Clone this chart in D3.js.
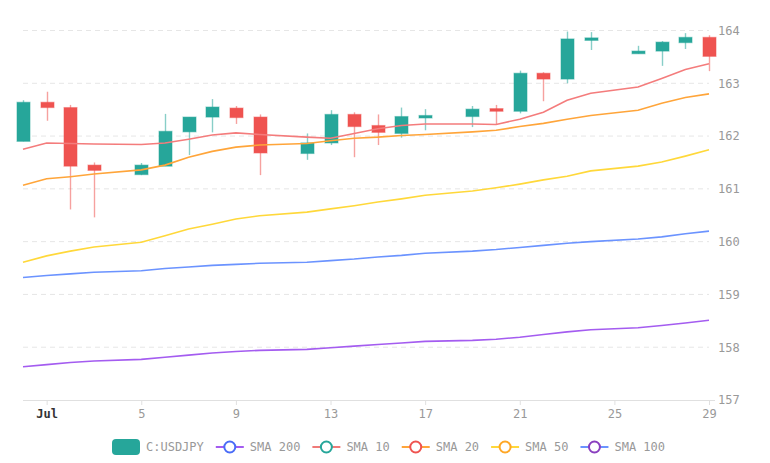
<!DOCTYPE html>
<html>
<head>
<meta charset="utf-8">
<script src="https://cdn.jsdelivr.net/npm/d3@7"></script>
<style>
  body { margin: 0; background: #fff; }
  svg text { font-family: "DejaVu Sans Mono", monospace; font-size: 12px; }
</style>
</head>
<body>
<svg id="chart" width="770" height="463"></svg>
<script>
// days of July 2024 (0 = Jun 30)
const days  = [0, 1, 2, 3, 5, 6, 7, 8, 9, 10, 12, 13, 14, 15, 16, 17, 19, 20, 21, 22, 23, 24, 26, 27, 28, 29];
const open  = [161.90, 162.64, 162.54, 161.45, 161.27, 161.43, 162.08, 162.36, 162.53, 162.36, 161.67, 161.87, 162.41, 162.20, 162.05, 162.37, 162.37, 162.52, 162.47, 163.19, 163.08, 163.84, 163.56, 163.61, 163.77, 163.87];
const high  = [162.68, 162.84, 162.59, 161.50, 161.49, 162.42, 162.36, 162.70, 162.57, 162.41, 162.05, 162.49, 162.45, 162.41, 162.54, 162.51, 162.57, 162.59, 163.24, 163.21, 163.98, 163.97, 163.71, 163.80, 163.95, 163.91];
const low   = [161.90, 162.29, 160.61, 160.46, 161.26, 161.43, 161.64, 162.07, 162.23, 161.26, 161.55, 161.83, 161.60, 161.83, 161.97, 162.11, 162.17, 162.21, 162.43, 162.66, 163.00, 163.63, 163.56, 163.33, 163.65, 163.23];
const close = [162.64, 162.54, 161.43, 161.35, 161.45, 162.09, 162.36, 162.55, 162.35, 161.68, 161.87, 162.41, 162.18, 162.07, 162.37, 162.39, 162.51, 162.47, 163.19, 163.08, 163.84, 163.86, 163.61, 163.78, 163.87, 163.51];

const sma10  = [161.75, 161.87, 161.86, 161.85, 161.84, 161.87, 161.94, 162.02, 162.06, 162.03, 161.98, 161.96, 162.05, 162.14, 162.20, 162.23, 162.23, 162.22, 162.32, 162.45, 162.68, 162.81, 162.93, 163.09, 163.26, 163.37];
const sma20  = [161.07, 161.19, 161.23, 161.28, 161.36, 161.45, 161.60, 161.71, 161.79, 161.83, 161.86, 161.91, 161.96, 161.98, 162.01, 162.03, 162.08, 162.11, 162.18, 162.24, 162.32, 162.39, 162.49, 162.62, 162.73, 162.80];
const sma50  = [159.61, 159.73, 159.82, 159.90, 159.99, 160.11, 160.24, 160.33, 160.43, 160.49, 160.56, 160.62, 160.68, 160.75, 160.81, 160.88, 160.96, 161.02, 161.09, 161.17, 161.24, 161.34, 161.43, 161.51, 161.62, 161.74];
const sma100 = [159.32, 159.36, 159.39, 159.42, 159.45, 159.49, 159.52, 159.55, 159.57, 159.59, 159.61, 159.64, 159.67, 159.71, 159.74, 159.78, 159.82, 159.85, 159.89, 159.93, 159.97, 160.00, 160.05, 160.09, 160.15, 160.20];
const sma200 = [157.63, 157.67, 157.71, 157.74, 157.77, 157.81, 157.85, 157.89, 157.92, 157.94, 157.96, 157.99, 158.02, 158.05, 158.08, 158.11, 158.13, 158.15, 158.19, 158.24, 158.29, 158.33, 158.37, 158.41, 158.46, 158.51];

const xTickDays = [1, 5, 9, 13, 17, 21, 25, 29];
const yTicks = [157, 158, 159, 160, 161, 162, 163, 164];

const legendItems = [
  {name: "C:USDJPY", type: "candle", color: "#26a69a"},
  {name: "SMA 200", line: "#a45cf0", dot: "#4a6cf7"},
  {name: "SMA 10",  line: "#f07a78", dot: "#26a69a"},
  {name: "SMA 20",  line: "#ffa53a", dot: "#ef5350"},
  {name: "SMA 50",  line: "#ffd83a", dot: "#ffa726"},
  {name: "SMA 100", line: "#6b93ff", dot: "#8a3fbf"}
];
const lineSeries = [
  {vals: sma200, color: "#a45cf0"},
  {vals: sma100, color: "#6b93ff"},
  {vals: sma50,  color: "#ffd83a"},
  {vals: sma20,  color: "#ffa53a"},
  {vals: sma10,  color: "#f47c7c"}
];

const up = "#26a69a", down = "#ef5350";
const toDate = d => new Date(Date.UTC(2024, 6, d));

const data = days.map((d, i) => ({date: toDate(d), o: open[i], h: high[i], l: low[i], c: close[i]}));

const svg = d3.select("#chart");
const plot = {left: 23, right: 709, top: 30.5, bottom: 400};

const x = d3.scaleUtc().domain([toDate(0), toDate(29)]).range([plot.left, plot.right]);
const y = d3.scaleLinear().domain([157, 164]).range([plot.bottom, plot.top]);

// grid
svg.append("g").selectAll("line").data(yTicks.slice(1)).enter().append("line")
  .attr("x1", plot.left).attr("x2", plot.right)
  .attr("y1", d => y(d)).attr("y2", d => y(d))
  .attr("stroke", "#e6e6e6").attr("stroke-dasharray", "5,4");

// y axis (right, no line)
let yAxis = d3.axisRight(y).tickValues(yTicks).tickSize(0).tickPadding(9).tickFormat(d3.format("d"));
svg.append("g").attr("transform", `translate(${plot.right},0)`).call(yAxis)
  .call(g => g.select(".domain").remove())
  .call(g => g.selectAll("text").attr("fill", "#999").style("font-size", "12px"));

// x axis
let xAxis = d3.axisBottom(x).tickValues(xTickDays.map(toDate)).tickSize(5).tickPadding(4)
  .tickFormat(d => d.getUTCDate() === 1 ? "Jul" : d.getUTCDate());
let xg = svg.append("g").attr("transform", `translate(0,${plot.bottom})`).call(xAxis);
xg.select(".domain").attr("stroke", "#e0e0e0").attr("d", `M${plot.left},0.5H${plot.right + 6}`);
xg.selectAll(".tick line").attr("stroke", "#e0e0e0");
xg.selectAll(".tick text").attr("fill", d => d.getUTCDate() === 1 ? "#333" : "#999")
  .style("font-weight", d => d.getUTCDate() === 1 ? "bold" : "normal").style("font-size", "12px");

// candles
const bw = 13;
let candles = svg.append("g").selectAll("g").data(data).enter().append("g");
candles.append("line")
  .attr("x1", d => Math.round(x(d.date)) + 0.5).attr("x2", d => Math.round(x(d.date)) + 0.5)
  .attr("y1", d => y(d.h)).attr("y2", d => y(d.l))
  .attr("stroke", d => d.c >= d.o ? up : down).attr("stroke-opacity", 0.55).attr("stroke-width", 1.4);
candles.append("rect")
  .attr("x", d => Math.round(x(d.date)) + 0.5 - bw / 2)
  .attr("y", d => y(Math.max(d.o, d.c)))
  .attr("width", bw)
  .attr("height", d => Math.max(2.5, y(Math.min(d.o, d.c)) - y(Math.max(d.o, d.c))))
  .attr("fill", d => d.c >= d.o ? up : down)
  .attr("stroke", d => d.c >= d.o ? up : down).attr("stroke-opacity", 0.45).attr("stroke-width", 1.2);

// moving averages
lineSeries.forEach(s => {
  let line = d3.line().x((d, i) => x(toDate(days[i]))).y(d => y(d));
  svg.append("path").datum(s.vals).attr("d", line)
    .attr("fill", "none").attr("stroke", s.color).attr("stroke-width", 1.6);
});

// legend
let lg = svg.append("g").attr("transform", "translate(112,447)");
let lx = 0;
legendItems.forEach(it => {
  let g = lg.append("g").attr("transform", `translate(${lx},0)`);
  if (it.type === "candle") {
    g.append("rect").attr("x", 0).attr("y", -8).attr("width", 28).attr("height", 16).attr("rx", 4).attr("fill", it.color);
  } else {
    g.append("line").attr("x1", 0).attr("x2", 28).attr("y1", 0).attr("y2", 0).attr("stroke", it.line).attr("stroke-width", 2);
    g.append("circle").attr("cx", 14).attr("cy", 0).attr("r", 5.5).attr("fill", "#fff").attr("stroke", it.dot).attr("stroke-width", 2);
  }
  let t = g.append("text").attr("x", 34).attr("y", 0).attr("dy", "0.35em").attr("fill", "#999").text(it.name);
  lx += 34 + t.node().getComputedTextLength() + 12;
});
</script>
</body>
</html>
